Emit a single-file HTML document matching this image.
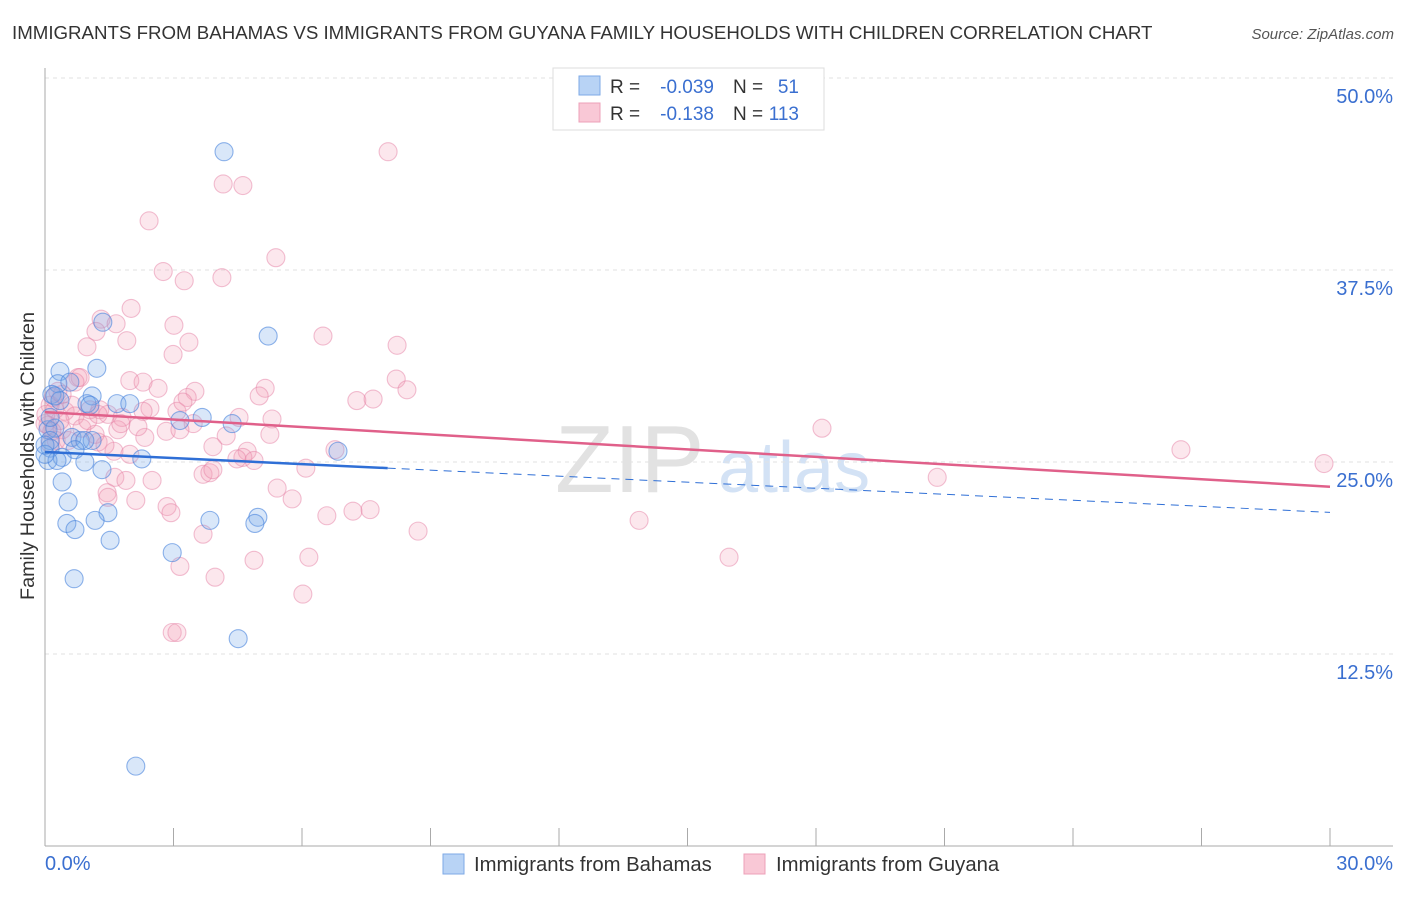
<!DOCTYPE html>
<html><head><meta charset="utf-8">
<style>
body{margin:0;background:#fff;font-family:"Liberation Sans",sans-serif;}
svg text{font-family:"Liberation Sans",sans-serif;}
</style></head>
<body>
<svg id="chart" width="1406" height="892" viewBox="0 0 1406 892" xmlns="http://www.w3.org/2000/svg">
<text x="12" y="39" font-size="18.7" fill="#333">IMMIGRANTS FROM BAHAMAS VS IMMIGRANTS FROM GUYANA FAMILY HOUSEHOLDS WITH CHILDREN CORRELATION CHART</text>
<text x="1394" y="39" font-size="15" fill="#555" font-style="italic" text-anchor="end">Source: ZipAtlas.com</text>
<text x="555" y="492" font-size="96" fill="#e2e2e2" font-family="Liberation Serif">ZIP</text>
<text x="718" y="492" font-size="72" fill="#d3e2f5">atlas</text>
<g id="grid"></g>
<g id="axes"></g>
<g id="pts"></g>
<g id="trends"></g>
<text transform="translate(34,456) rotate(-90)" font-size="19.8" fill="#333" text-anchor="middle">Family Households with Children</text>
<g>
<rect x="553" y="68" width="271" height="62" fill="#fff" stroke="#ddd"/>
<rect x="579" y="76" width="21" height="19" fill="#b8d3f5" stroke="#7ea9e6"/>
<rect x="579" y="103" width="21" height="19" fill="#f9c8d6" stroke="#eda0b8"/>
<text x="610" y="93" font-size="19" fill="#333">R =</text>
<text x="714" y="93" font-size="19" fill="#3a6fd0" text-anchor="end">-0.039</text>
<text x="733" y="93" font-size="19" fill="#333">N =</text>
<text x="799" y="93" font-size="19" fill="#3a6fd0" text-anchor="end">51</text>
<text x="610" y="120" font-size="19" fill="#333">R =</text>
<text x="714" y="120" font-size="19" fill="#3a6fd0" text-anchor="end">-0.138</text>
<text x="733" y="120" font-size="19" fill="#333">N =</text>
<text x="799" y="120" font-size="19" fill="#3a6fd0" text-anchor="end">113</text>
</g>
<g>
<rect x="443" y="854" width="21" height="20" fill="#b8d3f5" stroke="#7ea9e6"/>
<text x="474" y="871" font-size="20.3" fill="#333">Immigrants from Bahamas</text>
<rect x="744" y="854" width="21" height="20" fill="#f9c8d6" stroke="#eda0b8"/>
<text x="776" y="871" font-size="20.3" fill="#333">Immigrants from Guyana</text>
</g>
</svg>
<script>
const yTicks=[12.5,25,37.5,50];
const yTickLabels=["12.5%","25.0%","37.5%","50.0%"];
const xEdgeLabels=["0.0%","30.0%"];
const bahamasX=[4.18,5.21,1.35,1.21,0.35,0.30,0.58,0.16,1.10,1.68,0.98,3.15,3.67,4.37,0.07,0.23,0.12,0.63,0.82,1.10,0.93,0.12,0.70,0.40,0.07,0.28,2.26,0.93,1.33,6.84,0.40,0.54,1.47,1.17,3.85,4.97,4.90,0.51,0.70,1.52,2.97,0.68,4.51,2.12,0.0,0.12,1.05,1.98,0.35,0.23,0.0];
const bahamasY=[45.2,33.2,34.1,31.1,30.9,30.1,30.2,29.4,29.3,28.8,28.8,27.7,27.9,27.5,27.1,27.2,26.4,26.6,26.4,26.4,26.4,25.9,25.8,25.3,25.1,25.1,25.2,25.0,24.5,25.7,23.7,22.4,21.7,21.2,21.2,21.4,21.0,21.0,20.6,19.9,19.1,17.4,13.5,5.2,25.5,27.9,28.7,28.8,29.0,29.3,26.1];
const guyanaX=[8.01,4.16,4.62,2.43,5.39,2.76,3.25,4.13,2.01,1.31,1.66,1.19,1.91,0.98,3.01,3.36,2.99,6.49,8.22,0.77,1.98,2.29,2.64,3.50,3.32,5.14,5.00,8.20,8.45,7.28,7.66,2.45,3.08,4.53,5.30,3.46,0.12,0.23,0.47,0.70,1.28,1.47,1.80,0.07,0.40,0.86,1.70,2.33,4.23,0.26,1.24,1.61,4.72,1.98,4.62,4.48,6.77,18.14,26.52,29.86,20.83,6.09,1.63,1.89,2.50,3.69,3.85,5.42,1.45,2.12,2.85,2.94,5.77,6.58,7.19,7.59,3.69,8.71,13.87,6.16,4.88,3.15,15.97,3.97,6.02,2.97,3.08,1.47,0.35,0.54,1.05,0.63,0.19,0.30,0.0,0.02,1.40,1.17,0.82,2.17,1.77,2.83,4.88,3.22,3.92,3.15,3.92,0.40,0.70,1.00,1.24,2.29,0.16,0.12,5.25];
const guyanaY=[45.2,43.1,43.0,40.7,38.3,37.4,36.8,37.0,35.0,34.3,34.0,33.5,32.9,32.5,33.9,32.8,32.0,33.2,32.6,30.5,30.3,30.2,29.8,29.6,29.2,29.8,29.3,30.4,29.7,29.0,29.1,28.5,28.3,27.9,27.8,27.5,28.7,28.4,28.3,28.0,28.4,28.1,27.9,27.4,27.1,27.2,27.1,26.6,26.7,26.4,26.3,25.7,25.7,25.5,25.3,25.2,25.8,27.2,25.8,24.9,24.0,24.6,24.0,23.8,23.8,24.2,24.3,23.3,23.0,22.5,22.1,21.7,22.6,21.5,21.8,21.9,20.3,20.5,21.2,18.8,18.6,18.2,18.8,17.5,16.4,13.9,13.9,22.7,27.7,26.4,28.4,28.7,29.2,29.6,27.5,28.1,26.1,26.8,30.5,27.3,27.5,27.0,25.1,28.9,26.0,27.1,24.5,29.4,30.2,27.7,28.1,28.3,27.0,26.2,26.8];
const trendBahamas=[25.65,-0.131];
const trendGuyana=[28.25,-0.162];
const bahamasSolidEnd=8.0;

const NS="http://www.w3.org/2000/svg";
const X0=45,X1=1330,Y0=846,Y1=78;
const sx=v=>X0+v/30*(X1-X0);
const sy=v=>Y0-v/50*(Y0-Y1);
function mk(tag,attrs,parent){const e=document.createElementNS(NS,tag);for(const k in attrs)e.setAttribute(k,attrs[k]);parent.appendChild(e);return e;}
const grid=document.getElementById('grid'),axes=document.getElementById('axes'),pts=document.getElementById('pts'),tr=document.getElementById('trends');
yTicks.forEach((t,i)=>{
  const l=mk('line',{x1:X0,x2:1393,y1:sy(t),y2:sy(t),stroke:'#e2e2e2','stroke-dasharray':'4,4'},grid);
  
  
  const tx=mk('text',{x:1393,y:sy(t)+25,'font-size':20,fill:'#3a6fd0','text-anchor':'end'},grid);
  tx.textContent=yTickLabels[i];
  
  
});
const ax=mk('line',{x1:X0,x2:X0,y1:68,y2:Y0,stroke:'#aaa'},axes);


const bx=mk('line',{x1:X0,x2:1393,y1:Y0,y2:Y0,stroke:'#aaa'},axes);


for(let i=0;i<=10;i++){
  const t=mk('line',{x1:sx(i*3),x2:sx(i*3),y1:Y0,y2:Y0-18,stroke:'#aaa'},axes);
  
  
}
[[0,'start',X0],[30,'end',1393]].forEach((d,i)=>{
  const t=mk('text',{x:d[2],y:870,'font-size':20,fill:'#3a6fd0','text-anchor':d[1]},axes);
  t.textContent=xEdgeLabels[i];
  
  
});
guyanaX.forEach((x,i)=>{
  const c=mk('circle',{cx:sx(x),cy:sy(guyanaY[i]),r:9,fill:'rgba(245,160,185,0.25)',stroke:'rgba(230,130,165,0.5)','stroke-width':1.1},pts);
  
  
});
bahamasX.forEach((x,i)=>{
  const c=mk('circle',{cx:sx(x),cy:sy(bahamasY[i]),r:9,fill:'rgba(120,170,235,0.28)',stroke:'rgba(70,130,220,0.6)','stroke-width':1.1},pts);
  
  
});
const f=(t,x)=>t[0]+t[1]*x;
const g=mk('line',{x1:sx(0),y1:sy(f(trendGuyana,0)),x2:sx(30),y2:sy(f(trendGuyana,30)),stroke:'#e0608a','stroke-width':2.5},tr);


const b=mk('line',{x1:sx(0),y1:sy(f(trendBahamas,0)),x2:sx(bahamasSolidEnd),y2:sy(f(trendBahamas,bahamasSolidEnd)),stroke:'#2f6fd6','stroke-width':2.5},tr);


const bd=mk('line',{x1:sx(bahamasSolidEnd),y1:sy(f(trendBahamas,bahamasSolidEnd)),x2:sx(30),y2:sy(f(trendBahamas,30)),stroke:'#2f6fd6','stroke-width':1,'stroke-dasharray':'8,6'},tr);


</script>
</body></html>
